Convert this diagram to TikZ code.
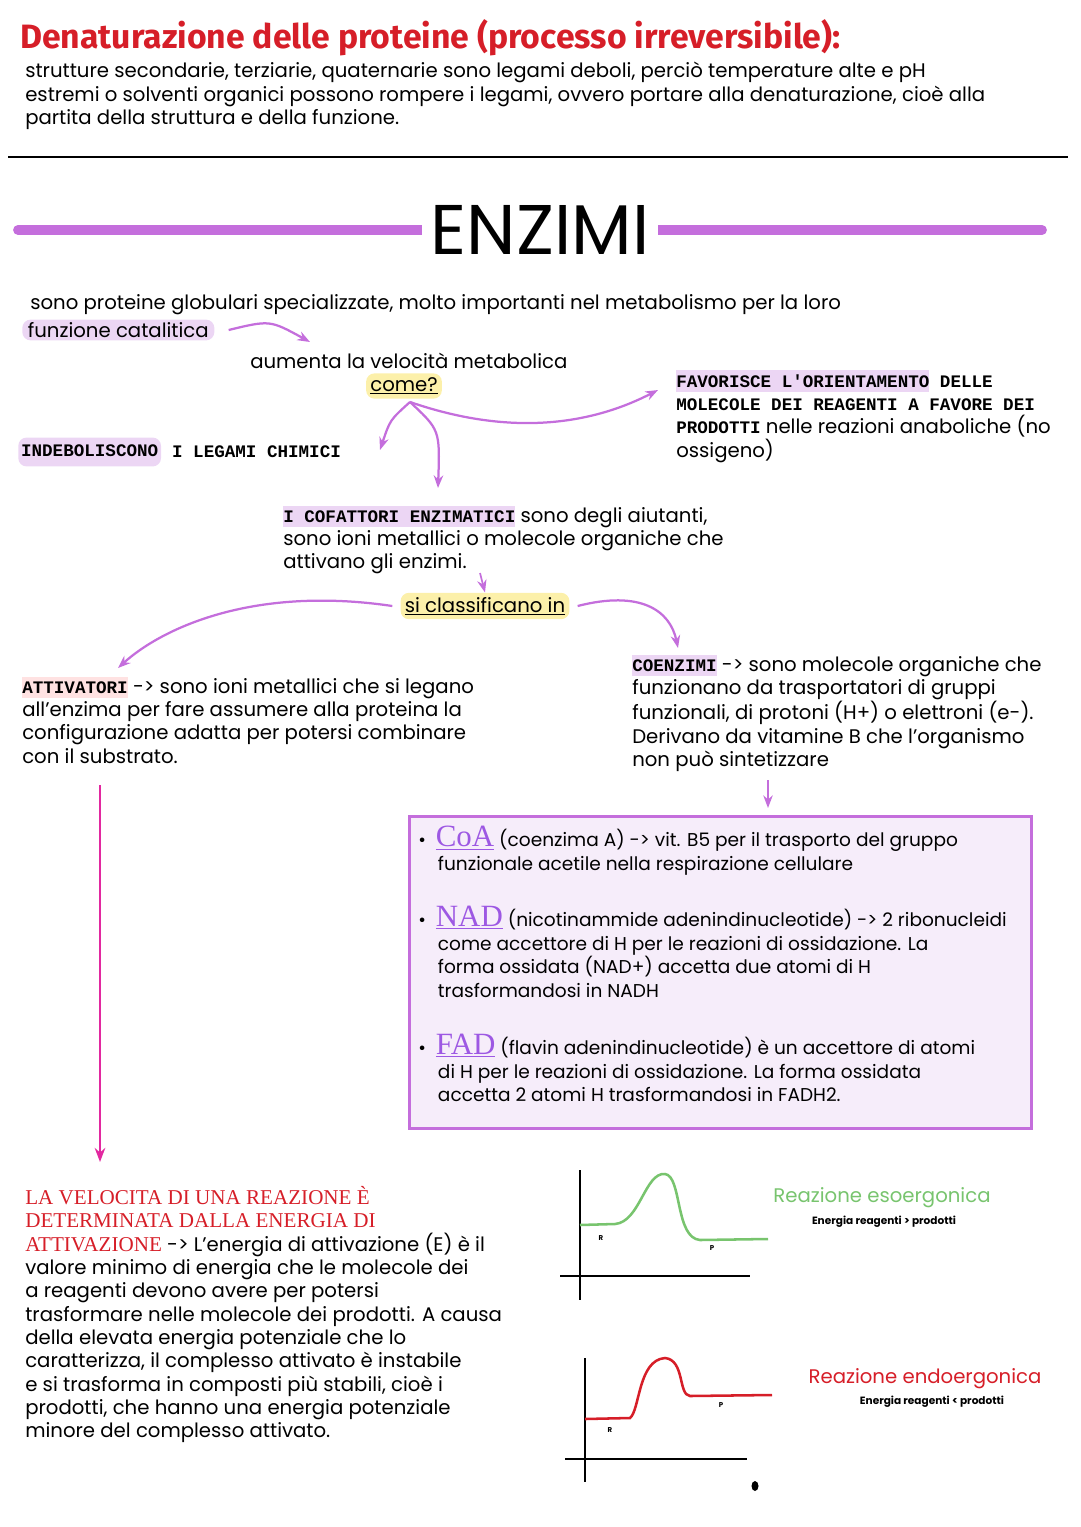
\documentclass[tikz,border=0pt]{standalone}
\usepackage{fontspec}
\setmainfont{Poppins}
\newfontfamily\serifx{Liberation Serif}
\newfontfamily\monox{Liberation Mono}
\newfontfamily\titlex{Fira Sans}
\usetikzlibrary{arrows.meta}
\definecolor{lila}{RGB}{196,110,220}
\definecolor{lilabg}{RGB}{236,214,244}
\definecolor{giallo}{RGB}{252,240,170}
\definecolor{rosso}{RGB}{214,30,40}
\definecolor{verde}{RGB}{120,196,110}
\definecolor{magenta}{RGB}{226,40,160}
\newcommand{\maiusc}[1]{{\monox\bfseries\fontsize{12.5}{16.5}\selectfont #1}}
\tikzset{
  txt/.style={anchor=west, align=left, inner sep=0pt, font=\fontsize{14}{16.6}\selectfont},
  boxtxt/.style={txt, anchor=north west, font=\fontsize{13.2}{16.8}\selectfont},
  hilite/.style={fill=#1, rounded corners=6pt, inner xsep=4pt, inner ysep=2pt},
  freccia/.style={-{Stealth[length=9pt]}, lila, line width=1.6pt},
}
\begin{document}
\begin{tikzpicture}[x=0.025cm, y=-0.025cm]
    \useasboundingbox (0,0) rectangle (1080,1527);

    % intestazione
    \node[txt, text=rosso, font=\fontsize{24}{28}\selectfont\titlex\bfseries] (titolo) at (20,38)
        {Denaturazione delle proteine (processo irreversibile):};
    \node[txt, anchor=north west] (denat) at (25,62)
        {strutture secondarie, terziarie, quaternarie sono legami deboli, perciò temperature alte e pH\\
         estremi o solventi organici possono rompere i legami, ovvero portare alla denaturazione, cioè alla\\
         partita della struttura e della funzione.};
    \draw[line width=1.5pt] (8,157) -- (1068,157);

    % titolo enzimi
    \draw[lila, line width=7pt, line cap=round] (18,230) -- (1042,230);
    \node[fill=white, inner xsep=6pt, font=\fontsize{50}{60}\selectfont] (enzimi) at (540,230) {ENZIMI};

    \node[txt] (intro) at (30,305)
        {sono proteine globulari specializzate, molto importanti nel metabolismo per la loro};
    \node[txt, hilite=lilabg] (catal) at (22,330) {funzione catalitica};
    \coordinate (c1) at (310,342);
    \draw[freccia] (catal.east) ++(14,0) .. controls (270,320) .. (c1);

    \node[txt] (aumenta) at (250,361) {aumenta la velocità metabolica};
    \node[hilite=giallo, inner sep=3pt, font=\fontsize{14}{16.6}\selectfont] (come) at (404,386) {\underline{come?}};

    \node[txt, anchor=north west] (favor) at (676,370)
        {\maiusc{\colorbox{lilabg}{\hspace{-3pt}FAVORISCE L'ORIENTAMENTO\hspace{-3pt}} DELLE}\\
         \maiusc{MOLECOLE DEI REAGENTI A FAVORE DEI}\\
         \maiusc{PRODOTTI} nelle reazioni anaboliche (no\\
         ossigeno)};
    \node[txt, hilite=lilabg, inner xsep=2pt] (indeb) at (18,452) {\maiusc{INDEBOLISCONO}\strut};
    \node[txt] (legami) at (indeb.east) {\maiusc{\ I LEGAMI CHIMICI}};

    \draw[freccia] (410,402) .. controls (520,440) and (600,420) .. (658,390);
    \draw[freccia] (410,402) .. controls (390,420) .. (380,450);
    \draw[freccia] (410,402) .. controls (440,430) .. (438,488);

    \node[txt, anchor=north west] (cofatt) at (283,506)
        {\colorbox{lilabg}{\hspace{-3pt}\maiusc{I COFATTORI ENZIMATICI}\hspace{-3pt}} sono degli aiutanti,\\
         sono ioni metallici o molecole organiche che\\
         attivano gli enzimi.};
    \node[hilite=giallo, inner sep=3pt, font=\fontsize{14}{16.6}\selectfont] (classif) at (485,606) {\underline{si classificano in}};
    \draw[freccia, line width=1.2pt] (480,573) -- (classif.north);

    \node[txt, anchor=north west] (attiv) at (22,677)
        {\colorbox{pink!45}{\hspace{-3pt}\maiusc{ATTIVATORI}\hspace{-3pt}} -> sono ioni metallici che si legano\\
         all'enzima per fare assumere alla proteina la\\
         configurazione adatta per potersi combinare\\
         con il substrato.};
    \node[txt, anchor=north west] (coenz) at (632,655)
        {\colorbox{lilabg}{\hspace{-3pt}\maiusc{COENZIMI}\hspace{-3pt}} -> sono molecole organiche che\\
         funzionano da trasportatori di gruppi\\
         funzionali, di protoni (H+) o elettroni (e-).\\
         Derivano da vitamine B che l'organismo\\
         non può sintetizzare};
    \draw[freccia] (classif.west) ++(-8,0) .. controls (250,585) and (160,630) .. (118,668);
    \draw[freccia] (classif.east) ++(8,0) .. controls (640,590) and (670,610) .. (678,648);
    \draw[freccia, line width=1.2pt] (768,780) -- (768,808);

    % riquadro coenzimi
    \node[draw=lila, line width=1.8pt, fill=lilabg!45, inner sep=0pt,
          anchor=north west, minimum width=15.55cm, minimum height=7.8cm] (box) at (408,815) {};
    \node[boxtxt] (coa) at (418,826)
        {\textbullet\ \ {\serifx\fontsize{22}{22}\selectfont\color{lila!80!blue}\underline{CoA}} (coenzima A) -> vit. B5 per il trasporto del gruppo\\
         \hspace{14pt}funzionale acetile nella respirazione cellulare};
    \node[boxtxt] (nad) at (418,906)
        {\textbullet\ \ {\serifx\fontsize{22}{22}\selectfont\color{lila!80!blue}\underline{NAD}} (nicotinammide adenindinucleotide) -> 2 ribonucleidi\\
         \hspace{14pt}come accettore di H per le reazioni di ossidazione. La\\
         \hspace{14pt}forma ossidata (NAD+) accetta due atomi di H\\
         \hspace{14pt}trasformandosi in NADH};
    \node[boxtxt] (fad) at (418,1034)
        {\textbullet\ \ {\serifx\fontsize{22}{22}\selectfont\color{lila!80!blue}\underline{FAD}} (flavin adenindinucleotide) è un accettore di atomi\\
         \hspace{14pt}di H per le reazioni di ossidazione. La forma ossidata\\
         \hspace{14pt}accetta 2 atomi H trasformandosi in FADH2.};

    \draw[-{Stealth[length=10pt]}, magenta, line width=1.8pt] (100,785) -- (100,1162);

    % velocita
    \node[txt, anchor=north west] (veloc) at (25,1186)
        {{\serifx\color{rosso}\fontsize{15}{18.5}\selectfont LA VELOCITA DI UNA REAZIONE È}\\
         {\serifx\color{rosso}\fontsize{15}{18.5}\selectfont DETERMINATA DALLA ENERGIA DI}\\
         {\serifx\color{rosso}\fontsize{15}{18.5}\selectfont ATTIVAZIONE} -> L'energia di attivazione (E) è il\\
         valore minimo di energia che le molecole dei\\
         a reagenti devono avere per potersi\\
         trasformare nelle molecole dei prodotti. A causa\\
         della elevata energia potenziale che lo\\
         caratterizza, il complesso attivato è instabile\\
         e si trasforma in composti più stabili, cioè i\\
         prodotti, che hanno una energia potenziale\\
         minore del complesso attivato.};

    % grafico esoergonico
    \draw[line width=1.5pt] (580,1170) -- (580,1300);
    \draw[line width=1.5pt] (560,1276) -- (750,1276);
    \draw[verde, line width=1.8pt] (580,1225) -- (615,1224) .. controls (640,1222) and (645,1172) .. (665,1174)
        .. controls (682,1176) and (675,1238) .. (700,1240) -- (768,1239);
    \node[font=\tiny\bfseries] (r1) at (601,1238) {R};
    \node[font=\tiny\bfseries] (p1) at (712,1248) {P};
    \node[text=verde, font=\fontsize{14}{18}\selectfont] (eso) at (882,1198) {Reazione esoergonica};
    \node[font=\fontsize{7.5}{10}\selectfont\bfseries] (esot) at (884,1222) {Energia reagenti > prodotti};

    % grafico endoergonico
    \draw[line width=1.5pt] (585,1358) -- (585,1482);
    \draw[line width=1.5pt] (565,1459) -- (747,1459);
    \draw[rosso, line width=1.8pt] (585,1419) -- (630,1418) .. controls (640,1410) and (638,1360) .. (665,1358)
        .. controls (685,1360) and (678,1395) .. (690,1396) -- (772,1395);
    \node[font=\tiny\bfseries] (r2) at (610,1430) {R};
    \node[font=\tiny\bfseries] (p2) at (721,1405) {P};
    \node[text=rosso, font=\fontsize{14}{18}\selectfont] (endo) at (925,1379) {Reazione endoergonica};
    \node[font=\fontsize{7.5}{10}\selectfont\bfseries] (endot) at (932,1402) {Energia reagenti < prodotti};
    \fill (755,1486) ellipse (3.5 and 5);
\end{tikzpicture}
\end{document}
